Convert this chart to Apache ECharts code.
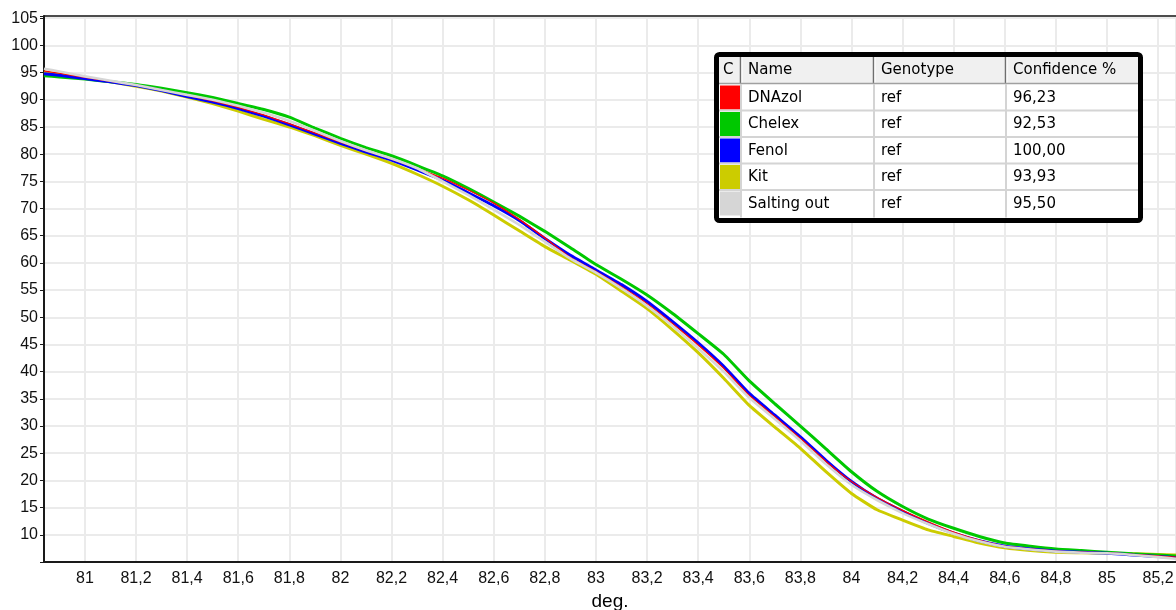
<!DOCTYPE html>
<html><head><meta charset="utf-8">
<script src="https://cdn.jsdelivr.net/npm/echarts@6/dist/echarts.min.js"></script>
<style>html,body{margin:0;padding:0;background:#fff}#c{width:1176px;height:610px}</style>
</head><body><div id="c"></div>
<script>
// ---- data ----
const xValues = [80.84, 80.9, 81, 81.1, 81.2, 81.3, 81.4, 81.5, 81.6, 81.7, 81.8, 81.9, 82, 82.1, 82.2, 82.3, 82.4, 82.5, 82.6, 82.7, 82.8, 82.9, 83, 83.1, 83.2, 83.3, 83.4, 83.5, 83.6, 83.7, 83.8, 83.9, 84, 84.1, 84.2, 84.3, 84.4, 84.5, 84.6, 84.7, 84.8, 84.9, 85, 85.1, 85.2, 85.27];
const dnazol = [95.3, 94.9, 94.1, 93.4, 92.7, 91.8, 90.8, 89.8, 88.6, 87.2, 85.6, 83.9, 82.2, 80.6, 79.1, 77.4, 75.6, 73.4, 71.0, 68.0, 64.6, 61.0, 58.4, 55.6, 52.5, 48.8, 44.9, 40.6, 35.6, 31.7, 27.7, 23.5, 19.8, 16.9, 14.5, 12.4, 10.5, 9.0, 7.9, 7.4, 7.0, 6.8, 6.7, 6.4, 6.1, 5.9];
const chelex = [94.4, 94.2, 93.8, 93.3, 92.8, 92.1, 91.3, 90.4, 89.3, 88.2, 86.8, 84.8, 82.9, 81.2, 79.7, 77.9, 76.0, 73.7, 71.2, 68.6, 65.8, 62.8, 59.7, 57.0, 54.1, 50.7, 47.0, 43.2, 38.3, 34.1, 30.0, 25.8, 21.6, 18.0, 15.2, 12.9, 11.2, 9.7, 8.5, 7.9, 7.4, 7.1, 6.8, 6.5, 6.3, 6.1];
const fenol = [94.8, 94.5, 93.9, 93.3, 92.6, 91.7, 90.6, 89.6, 88.4, 87.0, 85.4, 83.7, 82.0, 80.4, 78.9, 77.1, 75.2, 72.9, 70.5, 67.8, 64.5, 61.4, 58.7, 56.0, 52.9, 49.2, 45.3, 41.0, 36.0, 32.0, 28.0, 23.7, 19.8, 16.7, 14.3, 12.1, 10.3, 8.9, 7.9, 7.4, 7.0, 6.8, 6.6, 6.3, 6.0, 5.8];
const kit = [95.1, 94.7, 94.0, 93.3, 92.5, 91.6, 90.5, 89.3, 87.9, 86.4, 85.0, 83.4, 81.6, 80.0, 78.3, 76.3, 74.1, 71.6, 68.8, 65.9, 63.0, 60.5, 57.9, 54.8, 51.6, 47.7, 43.5, 38.8, 33.8, 29.8, 25.9, 21.6, 17.6, 14.6, 12.7, 10.9, 9.7, 8.5, 7.6, 7.1, 6.8, 6.7, 6.6, 6.5, 6.4, 6.3];
const saltingOut = [95.7, 95.2, 94.3, 93.5, 92.7, 91.8, 90.9, 90.0, 88.9, 87.6, 86.1, 84.3, 82.4, 80.7, 79.2, 77.4, 75.0, 72.5, 69.8, 67.0, 63.9, 60.8, 58.2, 55.3, 52.1, 48.4, 44.3, 40.0, 35.2, 31.3, 27.3, 23.0, 19.2, 16.4, 14.0, 12.0, 10.2, 8.8, 7.8, 7.3, 6.9, 6.7, 6.6, 6.3, 5.9, 5.6];

const seriesNames = ['DNAzol', 'Chelex', 'Fenol', 'Kit', 'Salting out'];
const seriesValues = [dnazol, chelex, fenol, kit, saltingOut];
const genotypes = ['ref', 'ref', 'ref', 'ref', 'ref'];
const confidences = ['96,23', '92,53', '100,00', '93,93', '95,50'];
const tableHeaders = ['C', 'Name', 'Genotype', 'Confidence %'];
const xAxisName = 'deg.';

// ---- styles ----
const colors = ['#ff0000', '#00c800', '#0000ff', '#cccc00', '#d6d6d6'];
const widths = [1.3, 3, 3, 3, 2.6];
const drawOrder = [3, 1, 2, 0, 4];

const chart = echarts.init(document.getElementById('c'), null, {renderer: 'canvas'});

const series = drawOrder.map(i => ({
  name: seriesNames[i],
  type: 'line',
  showSymbol: false,
  symbol: 'none',
  smooth: 0.15,
  clip: true,
  lineStyle: {color: colors[i], width: widths[i]},
  itemStyle: {color: colors[i]},
  data: xValues.map((x, k) => [x, seriesValues[i][k]])
}));

// ---- results table (legend) ----
const colX = [719, 741, 874, 1006, 1138];
const headTop = 57, headH = 27, rowTop0 = 85, rowH = 26.5;
const font = '15px "DejaVu Sans"';
const g = [];
g.push({type: 'rect', shape: {x: 716.5, y: 54.5, width: 424, height: 166, r: 3},
  style: {fill: '#fff', stroke: '#000', lineWidth: 5}});
g.push({type: 'rect', shape: {x: colX[0], y: headTop, width: colX[4] - colX[0], height: headH},
  style: {fill: '#f0f0f0'}});
for (let c = 1; c < 4; c++) {
  g.push({type: 'line', shape: {x1: colX[c] - 0.5, y1: headTop, x2: colX[c] - 0.5, y2: headTop + headH},
    style: {stroke: '#6e6e6e', lineWidth: 1.5}});
  g.push({type: 'line', shape: {x1: colX[c] + 1, y1: headTop, x2: colX[c] + 1, y2: headTop + headH},
    style: {stroke: '#ffffff', lineWidth: 1}});
}
g.push({type: 'line', shape: {x1: colX[0], y1: headTop + headH - 0.5, x2: colX[4], y2: headTop + headH - 0.5},
  style: {stroke: '#a0a0a0', lineWidth: 1.5}});
tableHeaders.forEach((h, c) => {
  g.push({type: 'text', x: c === 0 ? colX[0] + 4 : colX[c] + 7, y: headTop + headH / 2,
    style: {text: h, font: font, fill: '#000', verticalAlign: 'middle', align: 'left'}});
});
const bodyBottom = rowTop0 + rowH * seriesNames.length;
for (let c = 1; c < 4; c++) {
  g.push({type: 'line', shape: {x1: colX[c], y1: headTop + headH, x2: colX[c], y2: bodyBottom},
    style: {stroke: '#d4d4d4', lineWidth: 2}});
}
seriesNames.forEach((n, i) => {
  const top = rowTop0 + rowH * i;
  g.push({type: 'rect', shape: {x: colX[0] + 1, y: top + 0.5, width: colX[1] - colX[0] - 2, height: rowH - 2.5},
    style: {fill: colors[i]}});
  if (i < seriesNames.length - 1) {
    g.push({type: 'line', shape: {x1: colX[0], y1: top + rowH - 1, x2: colX[4], y2: top + rowH - 1},
      style: {stroke: '#d4d4d4', lineWidth: 2}});
  }
  const cells = [n, genotypes[i], confidences[i]];
  cells.forEach((t, c) => {
    g.push({type: 'text', x: colX[c + 1] + 7, y: top + rowH / 2 - 0.5,
      style: {text: t, font: font, fill: '#000', verticalAlign: 'middle', align: 'left'}});
  });
});

const fmtX = v => {
  const r = Math.round(v * 5) / 5;
  if (Math.abs(r - v) > 1e-6) return '';
  return String(Number(r.toFixed(1))).replace('.', ',');
};
const fmtY = v => (v >= 10 && Math.abs(v / 5 - Math.round(v / 5)) < 1e-6) ? String(Math.round(v)) : '';

const option = {
  animation: false,
  backgroundColor: '#fff',
  grid: {left: 44, right: 0, top: 16, bottom: 48, containLabel: false, outerBoundsMode: 'none'},
  xAxis: [{
    type: 'value', min: 80.84, max: 85.27, splitNumber: 22, position: 'bottom',
    name: xAxisName, nameLocation: 'middle', nameGap: 27,
    nameTextStyle: {fontSize: 19, color: '#000', fontFamily: 'Liberation Sans'},
    axisLine: {onZero: false, lineStyle: {color: '#1a1a1a', width: 2}},
    axisTick: {show: false},
    axisLabel: {fontSize: 16, color: '#111', margin: 9, fontFamily: 'Liberation Sans', formatter: fmtX},
    splitLine: {show: true, lineStyle: {color: '#ebebeb', width: 2}}
  }, {
    type: 'value', min: 80.84, max: 85.27, splitNumber: 22, position: 'top',
    axisLine: {onZero: false, lineStyle: {color: '#1a1a1a', width: 1.5}},
    axisTick: {show: false}, axisLabel: {show: false}, splitLine: {show: false}
  }],
  yAxis: {
    type: 'value', min: 5, max: 105.4, interval: 5,
    axisLine: {show: true, onZero: false, lineStyle: {color: '#1a1a1a', width: 2}},
    axisTick: {show: true, length: 4, lineStyle: {color: '#1a1a1a', width: 1}},
    axisLabel: {fontSize: 16, color: '#111', margin: 6, fontFamily: 'Liberation Sans', formatter: fmtY},
    splitLine: {show: true, lineStyle: {color: '#ebebeb', width: 2}}
  },
  series: series,
  graphic: {elements: g.map(e => Object.assign({z: 100, silent: true}, e))}
};
chart.setOption(option);
</script>
</body></html>
